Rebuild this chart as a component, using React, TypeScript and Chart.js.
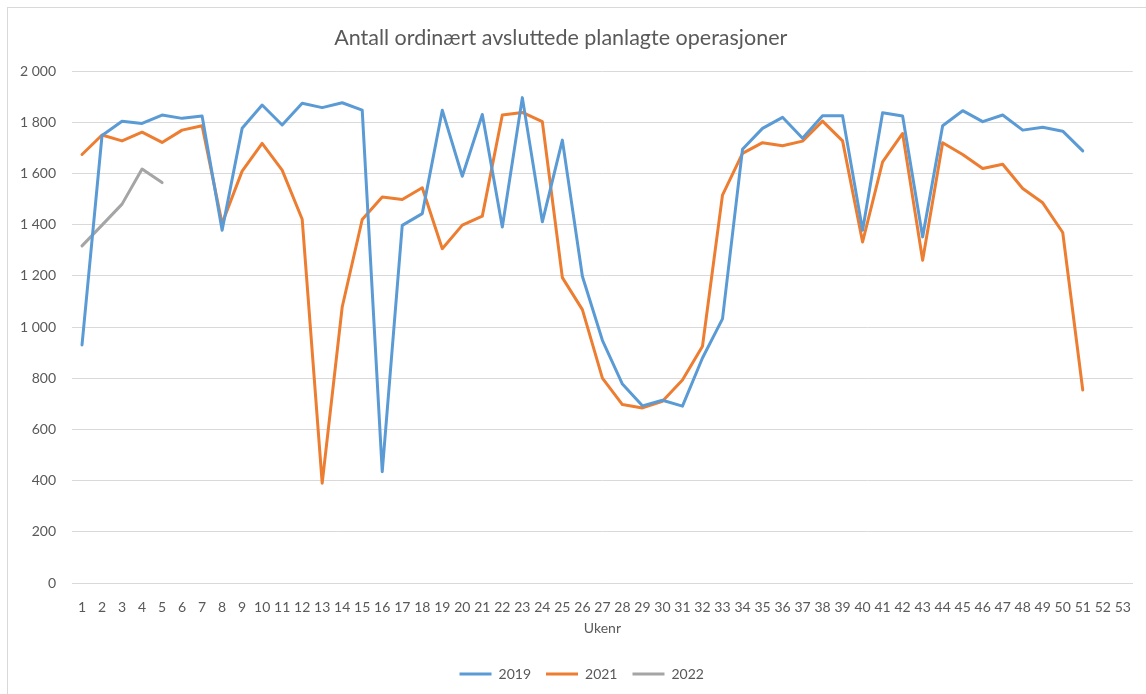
import React, { useEffect, useRef } from "react";
import { Chart, registerables } from "chart.js";

Chart.register(...registerables);

const weeks: string[] = Array.from({ length: 53 }, (_, i) => String(i + 1));

const series2019: (number | null)[] = [
  930, 1748, 1804, 1795, 1828, 1815, 1824, 1378, 1776, 1867, 1789, 1874, 1857, 1876, 1847, 435,
  1397, 1443, 1847, 1589, 1830, 1391, 1896, 1411, 1730, 1198, 948, 777, 692, 714, 691, 879,
  1032, 1694, 1776, 1819, 1737, 1825, 1825, 1378, 1837, 1824, 1352, 1786, 1845, 1802, 1828,
  1769, 1780, 1765, 1688, null, null,
];

const series2021: (number | null)[] = [
  1674, 1750, 1727, 1761, 1721, 1769, 1786, 1404, 1609, 1717, 1613, 1421, 390, 1078, 1420, 1508,
  1498, 1544, 1306, 1398, 1433, 1828, 1838, 1802, 1193, 1068, 800, 697, 684, 710, 793, 925,
  1515, 1678, 1720, 1708, 1726, 1804, 1727, 1332, 1645, 1756, 1261, 1720, 1674, 1619, 1636,
  1541, 1485, 1369, 754, null, null,
];

const series2022: (number | null)[] = [1317, 1398, 1480, 1617, 1564];

const seriesNames = ["2019", "2021", "2022"];
const seriesColors = ["#5B9BD5", "#ED7D31", "#A5A5A5"];

const TITLE = "Antall ordinært avsluttede planlagte operasjoner";
const X_TITLE = "Ukenr";
const FONT = "Lato, 'Open Sans', sans-serif";
const TEXT = "#595959";

function fmt(v: number): string {
  const s = String(Math.round(v));
  return s.replace(/\B(?=(\d{3})+(?!\d))/g, " ");
}

export default function App() {
  const ref = useRef<HTMLCanvasElement | null>(null);

  useEffect(() => {
    if (!ref.current) return;
    const all = [series2019, series2021, series2022];
    const shiftPlugin = {
      id: "shiftBoxes",
      afterLayout(chart: any) {
        if (chart.titleBlock) {
          chart.titleBlock.left -= 24;
        }
        if (chart.legend) {
          chart.legend.left += 18;
        }
      },
    };
    const chart = new Chart(ref.current, {
      type: "line",
      data: {
        labels: weeks,
        datasets: all.map((d, i) => ({
          label: seriesNames[i],
          data: d,
          borderColor: seriesColors[i],
          backgroundColor: seriesColors[i],
          borderWidth: 3,
          pointRadius: 0,
          pointHoverRadius: 0,
          tension: 0,
          borderJoinStyle: "round" as const,
          borderCapStyle: "round" as const,
          spanGaps: false,
        })),
      },
      options: {
        responsive: false,
        animation: false,
        devicePixelRatio: 1,
        layout: { padding: { left: 0, right: 10.5, top: 0, bottom: 18 } },
        plugins: {
          title: {
            display: true,
            text: TITLE,
            color: TEXT,
            font: { family: FONT, size: 21.5, weight: "normal" },
            padding: { top: 16, bottom: 20.2 },
          },
          legend: {
            display: true,
            position: "bottom",
            labels: {
              color: TEXT,
              font: { family: FONT, size: 14 },
              boxWidth: 32,
              boxHeight: 3,
              padding: 15,
              generateLabels(c: any) {
                const items = Chart.defaults.plugins.legend.labels.generateLabels(c);
                return items.map((it: any) => ({ ...it, lineWidth: 0 }));
              },
            },
          },
          tooltip: { enabled: false },
        },
        scales: {
          x: {
            type: "category",
            offset: true,
            grid: { display: false, drawTicks: false },
            border: { display: true, color: "#D9D9D9", width: 1 },
            ticks: {
              color: TEXT,
              font: { family: FONT, size: 14 },
              padding: 16,
              autoSkip: false,
              maxRotation: 0,
              minRotation: 0,
            },
            title: {
              display: true,
              text: X_TITLE,
              color: TEXT,
              font: { family: FONT, size: 14 },
              padding: { top: -12, bottom: 15.4 },
            },
          },
          y: {
            min: 0,
            max: 2000,
            grid: { color: "#D9D9D9", lineWidth: 1, drawTicks: false },
            border: { display: false },
            ticks: {
              stepSize: 200,
              color: TEXT,
              font: { family: FONT, size: 14 },
              padding: 16,
              callback: (v: any) => fmt(Number(v)),
            },
            afterFit(scale: any) {
              scale.width = 63;
            },
          },
        },
      },
      plugins: [shiftPlugin],
    });
    return () => chart.destroy();
  }, []);

  return (
    <div
      style={{
        position: "fixed",
        left: 0,
        top: 0,
        width: 1146,
        height: 694,
        overflow: "hidden",
        background: "#fff",
      }}
    >
      <div
        style={{
          position: "absolute",
          left: 7,
          top: 7,
          width: 1200,
          height: 760,
          borderLeft: "1px solid #D9D9D9",
          borderTop: "1px solid #D9D9D9",
        }}
      >
        <canvas ref={ref} width={1138} height={700} style={{ display: "block", position: "absolute", left: 1, top: 1 }} />
      </div>
    </div>
  );
}
